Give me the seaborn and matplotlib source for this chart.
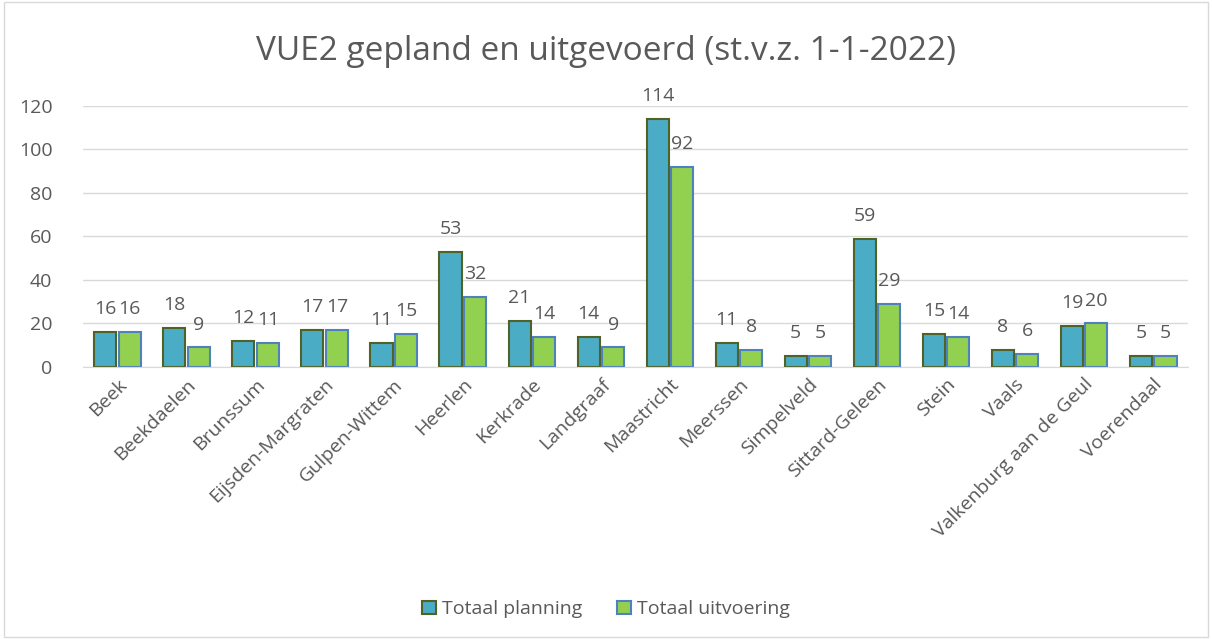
import matplotlib.pyplot as plt
import seaborn as sns
import pandas as pd
from matplotlib.patches import Patch, Rectangle

gemeenten = ["Beek", "Beekdaelen", "Brunssum", "Eijsden-Margraten", "Gulpen-Wittem",
             "Heerlen", "Kerkrade", "Landgraaf", "Maastricht", "Meerssen", "Simpelveld",
             "Sittard-Geleen", "Stein", "Vaals", "Valkenburg aan de Geul", "Voerendaal"]
planning = [16, 18, 12, 17, 11, 53, 21, 14, 114, 11, 5, 59, 15, 8, 19, 5]
uitvoering = [16, 9, 11, 17, 15, 32, 14, 9, 92, 8, 5, 29, 14, 6, 20, 5]
series = ["Totaal planning", "Totaal uitvoering"]

fills = ["#4BACC6", "#92D050"]
edges = ["#4F6228", "#4F81BD"]
grey = "#595959"

df = pd.DataFrame({
    "gemeente": gemeenten * 2,
    "waarde": planning + uitvoering,
    "reeks": [series[0]] * len(gemeenten) + [series[1]] * len(gemeenten),
})

sns.set_style("white")
plt.rcParams["font.family"] = ["Open Sans", "DejaVu Sans"]

fig = plt.figure(figsize=(12.12, 6.39), dpi=100)
ax = fig.add_axes([0.0685, 0.4257, 0.9115, 0.4085])

sns.barplot(data=df, x="gemeente", y="waarde", hue="reeks", palette=fills,
            saturation=1, width=0.71, gap=0.1, ax=ax, legend=False)

for cont, ec in zip(ax.containers, edges):
    for bar in cont:
        bar.set_edgecolor(ec)
        bar.set_linewidth(1.5)
    ax.bar_label(cont, padding=10, fontsize=14, color=grey)

ax.set_ylim(0, 120)
ax.set_xlim(-0.5, len(gemeenten) - 0.5)
ax.set_yticks(range(0, 121, 20))
ax.yaxis.grid(True, color="#D9D9D9", linewidth=1)
ax.set_axisbelow(True)
for side in ["top", "right", "left"]:
    ax.spines[side].set_visible(False)
ax.spines["bottom"].set_color("#D9D9D9")
ax.set_xlabel("")
ax.set_ylabel("")
ax.tick_params(axis="y", labelsize=14, colors=grey, length=0, pad=22)
ax.tick_params(axis="x", labelsize=14, colors=grey, length=0, pad=6)
plt.setp(ax.get_xticklabels(), rotation=45, ha="right", rotation_mode="anchor")

fig.suptitle("VUE2 gepland en uitgevoerd (st.v.z. 1-1-2022)", y=0.945,
             fontsize=24, color=grey)

handles = [Patch(facecolor=f, edgecolor=e, linewidth=1.5) for f, e in zip(fills, edges)]
fig.legend(handles, series, loc="lower center", bbox_to_anchor=(0.5, 0.005), ncol=2,
           frameon=False, fontsize=14, labelcolor=grey, handlelength=0.7,
           handleheight=0.7, handletextpad=0.3, columnspacing=1.8)

fig.patches.append(Rectangle((0.003, 0.003), 0.994, 0.994, transform=fig.transFigure,
                             fill=False, edgecolor="#D9D9D9", linewidth=1))

fig.savefig("out.png", dpi=100)
